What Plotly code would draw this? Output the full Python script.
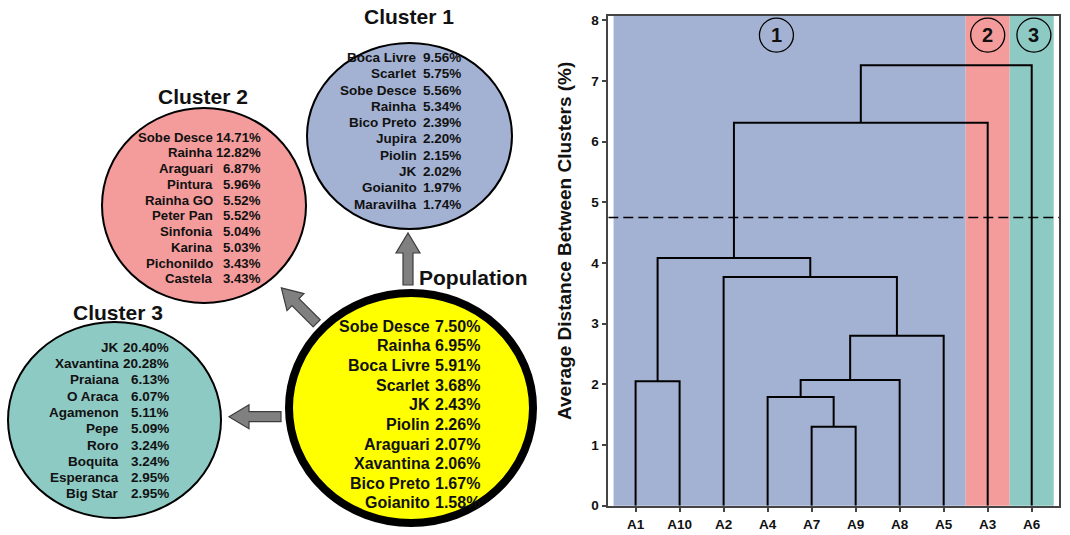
import math
import plotly.graph_objects as go

# ---------------- data ----------------
population_names = ["Sobe Desce", "Rainha", "Boca Livre", "Scarlet", "JK",
                    "Piolin", "Araguari", "Xavantina", "Bico Preto", "Goianito"]
population_pct = [7.50, 6.95, 5.91, 3.68, 2.43, 2.26, 2.07, 2.06, 1.67, 1.58]

cluster1_names = ["Boca Livre", "Scarlet", "Sobe Desce", "Rainha", "Bico Preto",
                  "Jupira", "Piolin", "JK", "Goianito", "Maravilha"]
cluster1_pct = [9.56, 5.75, 5.56, 5.34, 2.39, 2.20, 2.15, 2.02, 1.97, 1.74]

cluster2_names = ["Sobe Desce", "Rainha", "Araguari", "Pintura", "Rainha GO",
                  "Peter Pan", "Sinfonia", "Karina", "Pichonildo", "Castela"]
cluster2_pct = [14.71, 12.82, 6.87, 5.96, 5.52, 5.52, 5.04, 5.03, 3.43, 3.43]

cluster3_names = ["JK", "Xavantina", "Praiana", "O Araca", "Agamenon",
                  "Pepe", "Roro", "Boquita", "Esperanca", "Big Star"]
cluster3_pct = [20.40, 20.28, 6.13, 6.07, 5.11, 5.09, 3.24, 3.24, 2.95, 2.95]

# dendrogram: leaf order, merges (left, right, height), cluster membership
leaves = ["A1", "A10", "A2", "A4", "A7", "A9", "A8", "A5", "A3", "A6"]
merges = [
    ("A7", "A9", 1.30),
    ("A4", "m0", 1.79),
    ("A1", "A10", 2.05),
    ("m1", "A8", 2.07),
    ("m3", "A5", 2.80),
    ("A2", "m4", 3.77),
    ("m2", "m5", 4.08),
    ("m6", "A3", 6.31),
    ("m7", "A6", 7.26),
]
leaf_cluster = [1, 1, 1, 1, 1, 1, 1, 1, 2, 3]
cut_height = 4.75

FONT = "Liberation Sans, Arial, sans-serif"
TXT = "#111111"
COL = {1: "#A3B1D3", 2: "#F49C9C", 3: "#8ECAC4"}

fig = go.Figure()

# ---------------- dendrogram ----------------
node_x = {name: i + 1 for i, name in enumerate(leaves)}
node_h = {name: 0.0 for name in leaves}
lx, ly = [], []
for k, (a, b, h) in enumerate(merges):
    xa, xb = node_x[a], node_x[b]
    lx += [xa, xa, xb, xb, None]
    ly += [node_h[a], h, h, node_h[b], None]
    node_x[f"m{k}"] = (xa + xb) / 2
    node_h[f"m{k}"] = h

fig.add_trace(go.Scatter(x=lx, y=ly, mode="lines",
                         line=dict(color="black", width=2),
                         hoverinfo="skip", showlegend=False,
                         xaxis="x", yaxis="y"))

XMIN, XMAX = 0.38, 10.62
YMAX = 8.07
fig.add_trace(go.Scatter(x=[XMIN, XMAX], y=[cut_height, cut_height], mode="lines",
                         line=dict(color="black", width=1.6, dash="10px,5px"),
                         hoverinfo="skip", showlegend=False,
                         xaxis="x", yaxis="y"))

shapes = []
# coloured cluster bands behind the tree
for c in sorted(set(leaf_cluster)):
    pos = [i + 1 for i, cc in enumerate(leaf_cluster) if cc == c]
    x0 = max(XMIN, min(pos) - 0.5)
    x1 = min(XMAX, max(pos) + 0.5)
    shapes.append(dict(type="rect", xref="x", yref="y domain", x0=x0, x1=x1,
                       y0=0, y1=1, fillcolor=COL[c], line=dict(width=0),
                       layer="below"))

annotations = []
# circled cluster numbers
for c, xc in [(1, 4.2), (2, 9.0), (3, 10.05)]:
    shapes.append(dict(type="circle", xref="x", yref="y",
                       xsizemode="pixel", ysizemode="pixel",
                       xanchor=xc, yanchor=7.755,
                       x0=-17, x1=17, y0=-17, y1=17,
                       line=dict(color="black", width=1.3)))
    annotations.append(dict(x=xc, y=7.755, xref="x", yref="y", text=f"<b>{c}</b>",
                            showarrow=False, font=dict(family=FONT, size=20, color=TXT),
                            xanchor="center", yanchor="middle"))

# y axis title
annotations.append(dict(x=564 / 1070, y=1 - 241 / 535, xref="paper", yref="paper",
                        text="<b>Average Distance Between Clusters (%)</b>",
                        textangle=-90, showarrow=False,
                        font=dict(family=FONT, size=19, color=TXT),
                        xanchor="center", yanchor="middle"))

# ---------------- cluster diagram (pixel-like coordinates on x2/y2) ----------------
fig.add_trace(go.Scatter(x=[None], y=[None], mode="markers", showlegend=False,
                         hoverinfo="skip", xaxis="x2", yaxis="y2"))

panels = [
    dict(title="Cluster 1", names=cluster1_names, pct=cluster1_pct, fill=COL[1],
         ell=(307, 43, 512, 229), lw=2, title_xy=(409, 16),
         name_x=419, pct_x=463, y0=57.5, dy=16.28, size=13.5),
    dict(title="Cluster 2", names=cluster2_names, pct=cluster2_pct, fill=COL[2],
         ell=(102, 108, 306, 303), lw=2, title_xy=(203, 96),
         name_x=215, pct_x=263, y0=137.2, dy=15.73, size=13.2),
    dict(title="Cluster 3", names=cluster3_names, pct=cluster3_pct, fill=COL[3],
         ell=(8, 322, 221, 518), lw=2, title_xy=(118, 312),
         name_x=121, pct_x=171, y0=347.2, dy=16.3, size=13.5),
    dict(title="Population", names=population_names, pct=population_pct, fill="#FFFF00",
         ell=(289, 293, 533, 523), lw=8, title_xy=(473, 277),
         name_x=432, pct_x=482, y0=326.3, dy=19.63, size=16),
]


def arrow_path(x, y, angle_deg, length=52, shaft=10, head=24, head_len=20):
    a = math.radians(angle_deg)
    ca, sa = math.cos(a), math.sin(a)
    local = [(0, -shaft / 2), (length - head_len, -shaft / 2),
             (length - head_len, -head / 2), (length, 0),
             (length - head_len, head / 2), (length - head_len, shaft / 2),
             (0, shaft / 2)]
    pts = [(x + u * ca - v * sa, y + u * sa + v * ca) for u, v in local]
    return "M " + " L ".join(f"{px:.2f},{py:.2f}" for px, py in pts) + " Z"


for p in panels:
    x0, y0, x1, y1 = p["ell"]
    shapes.append(dict(type="circle", xref="x2", yref="y2", x0=x0, y0=y0, x1=x1, y1=y1,
                       fillcolor=p["fill"], line=dict(color="black", width=p["lw"])))
    tx, ty = p["title_xy"]
    annotations.append(dict(x=tx, y=ty, xref="x2", yref="y2", text=f"<b>{p['title']}</b>",
                            showarrow=False, font=dict(family=FONT, size=21, color=TXT),
                            xanchor="center", yanchor="middle"))
    for i, (n, v) in enumerate(zip(p["names"], p["pct"])):
        yy = p["y0"] + i * p["dy"]
        annotations.append(dict(x=p["name_x"], y=yy, xref="x2", yref="y2",
                                text=f"<b>{n}</b>", showarrow=False,
                                font=dict(family=FONT, size=p["size"], color=TXT),
                                xanchor="right", yanchor="middle"))
        annotations.append(dict(x=p["pct_x"], y=yy, xref="x2", yref="y2",
                                text=f"<b>{v:.2f}%</b>", showarrow=False,
                                font=dict(family=FONT, size=p["size"], color=TXT),
                                xanchor="right", yanchor="middle"))

for ax, ay, ang, ln in [(408, 285, -90, 52), (316.7, 323.3, -135, 50), (281, 416.7, 180, 52)]:
    shapes.append(dict(type="path", xref="x2", yref="y2", path=arrow_path(ax, ay, ang, ln),
                       fillcolor="#808080", line=dict(color="#3c3c3c", width=1.2)))

W, H = 1070, 535
fig.update_layout(
    width=W, height=H,
    margin=dict(l=0, r=0, t=0, b=0, autoexpand=False),
    paper_bgcolor="white", plot_bgcolor="white",
    showlegend=False,
    shapes=shapes, annotations=annotations,
    xaxis=dict(domain=[608.3 / W, 1059 / W], range=[XMIN, XMAX],
               tickmode="array", tickvals=list(range(1, len(leaves) + 1)),
               ticktext=[f"<b>{l}</b>" for l in leaves],
               ticks="outside", ticklen=5, tickwidth=1.5, tickcolor="#444",
               showline=True, linecolor="#444", linewidth=1.5, mirror=True,
               showgrid=False, zeroline=False, automargin=False,
               tickfont=dict(family=FONT, size=13.5, color=TXT), anchor="y"),
    yaxis=dict(domain=[1 - 505.7 / H, 1 - 16 / H], range=[0, YMAX],
               tickmode="array", tickvals=list(range(0, 9)),
               ticktext=[f"<b>{v}</b>" for v in range(0, 9)],
               ticks="outside", ticklen=5, tickwidth=1.5, tickcolor="#444",
               showline=True, linecolor="#444", linewidth=1.5, mirror=True,
               showgrid=False, zeroline=False, automargin=False,
               tickfont=dict(family=FONT, size=13.5, color=TXT), anchor="x"),
    xaxis2=dict(domain=[0, 580 / W], range=[0, 580], visible=False, automargin=False,
                showgrid=False, zeroline=False, anchor="y2", fixedrange=True),
    yaxis2=dict(domain=[0, 1], range=[535, 0], visible=False, automargin=False,
                showgrid=False, zeroline=False, anchor="x2", fixedrange=True),
)

fig.write_html("out.html")
